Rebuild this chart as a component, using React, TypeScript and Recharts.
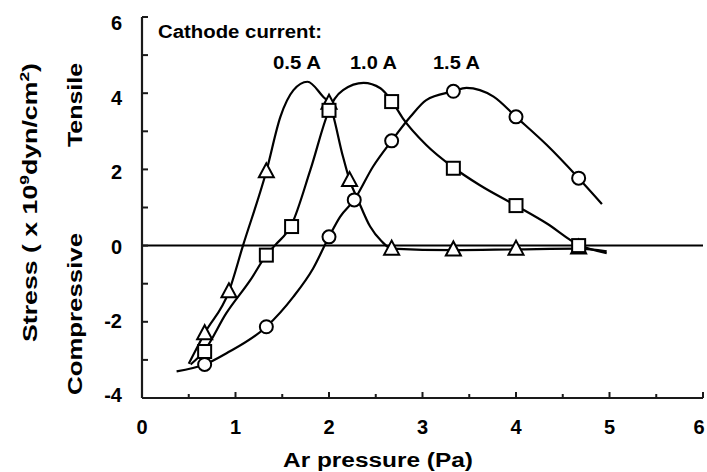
import React from "react";
import {
  ComposedChart,
  Line,
  Scatter,
  XAxis,
  YAxis,
  ReferenceLine,
} from "recharts";

// measured points (Ar pressure in Pa, stress in 1e9 dyn/cm2)
const pts05 = [
  { x: 0.67, y: -2.3 },
  { x: 0.93, y: -1.2 },
  { x: 1.33, y: 1.95 },
  { x: 2.0, y: 3.75 },
  { x: 2.22, y: 1.72 },
  { x: 2.67, y: -0.08 },
  { x: 3.33, y: -0.1 },
  { x: 4.0, y: -0.08 },
  { x: 4.67, y: -0.05 },
];
const pts10 = [
  { x: 0.67, y: -2.78 },
  { x: 1.33, y: -0.25 },
  { x: 1.6, y: 0.5 },
  { x: 2.0, y: 3.55 },
  { x: 2.67, y: 3.78 },
  { x: 3.33, y: 2.03 },
  { x: 4.0, y: 1.05 },
  { x: 4.67, y: 0.0 },
];
const pts15 = [
  { x: 0.67, y: -3.12 },
  { x: 1.33, y: -2.13 },
  { x: 2.0, y: 0.23 },
  { x: 2.27, y: 1.2 },
  { x: 2.67, y: 2.75 },
  { x: 3.33, y: 4.05 },
  { x: 4.0, y: 3.38 },
  { x: 4.67, y: 1.77 },
];

// hand-drawn fit curves
const curve05 = [
  { x: 0.5, y: -3.1 },
  { x: 0.67, y: -2.3 },
  { x: 0.93, y: -1.2 },
  { x: 1.08, y: 0 },
  { x: 1.33, y: 1.95 },
  { x: 1.48, y: 3.38 },
  { x: 1.62, y: 4.08 },
  { x: 1.77, y: 4.3 },
  { x: 1.94, y: 3.9 },
  { x: 2.0, y: 3.75 },
  { x: 2.15, y: 2.33 },
  { x: 2.22, y: 1.72 },
  { x: 2.31, y: 1.2 },
  { x: 2.44, y: 0.5 },
  { x: 2.56, y: 0.12 },
  { x: 2.67, y: -0.08 },
  { x: 3.33, y: -0.12 },
  { x: 4.0, y: -0.1 },
  { x: 4.67, y: -0.08 },
  { x: 4.97, y: -0.15 },
];
const curve10 = [
  { x: 0.52, y: -3.12 },
  { x: 0.67, y: -2.75 },
  { x: 0.9, y: -1.78 },
  { x: 1.16, y: -0.9 },
  { x: 1.33, y: -0.25 },
  { x: 1.42, y: 0 },
  { x: 1.6, y: 0.55 },
  { x: 1.8, y: 1.98 },
  { x: 2.0, y: 3.55 },
  { x: 2.06, y: 3.85 },
  { x: 2.15, y: 4.08 },
  { x: 2.37, y: 4.27 },
  { x: 2.55, y: 4.13 },
  { x: 2.67, y: 3.8 },
  { x: 2.79, y: 3.34 },
  { x: 3.04, y: 2.64 },
  { x: 3.33, y: 2.05 },
  { x: 3.61, y: 1.59 },
  { x: 4.0, y: 1.05 },
  { x: 4.33, y: 0.58 },
  { x: 4.67, y: 0.02 },
  { x: 4.97, y: -0.2 },
];
const curve15 = [
  { x: 0.37, y: -3.3 },
  { x: 0.67, y: -3.12 },
  { x: 0.9, y: -2.83 },
  { x: 1.33, y: -2.13 },
  { x: 1.62, y: -1.34 },
  { x: 1.83, y: -0.6 },
  { x: 2.0, y: 0.23 },
  { x: 2.12, y: 0.76 },
  { x: 2.27, y: 1.2 },
  { x: 2.47, y: 2.07 },
  { x: 2.67, y: 2.75 },
  { x: 2.87, y: 3.38 },
  { x: 3.04, y: 3.82 },
  { x: 3.33, y: 4.05 },
  { x: 3.47, y: 4.14 },
  { x: 3.76, y: 3.91 },
  { x: 4.0, y: 3.38 },
  { x: 4.33, y: 2.64 },
  { x: 4.67, y: 1.77 },
  { x: 4.92, y: 1.09 },
];

const xTicks = [0, 0.5, 1, 1.5, 2, 2.5, 3, 3.5, 4, 4.5, 5, 5.5, 6];
const yTicks = [-4, -3, -2, -1, 0, 1, 2, 3, 4, 5, 6];
const seriesLabels = ["0.5 A", "1.0 A", "1.5 A"];

// layout
const W = 707;
const H = 472;
const M_TOP = 17;
const M_RIGHT = 4;
const Y_AXIS_W = 142;
const X_AXIS_H = 74;

const ink = "#1a1a1a";
const font = "'Liberation Sans', Arial, Helvetica, sans-serif";

// tick labels plus the short inward tick marks
const XTick = ({ x, y, payload }: any) => {
  const v = payload.value;
  const major = Number.isInteger(v);
  const len = major ? 6 : 4;
  return (
    <g>
      <line x1={x} x2={x} y1={y} y2={y - len} stroke={ink} strokeWidth={2} />
      {major && (
        <text x={v === 6 ? x - 4 : x} y={y + 36} textAnchor="middle" fontFamily={font} fontWeight="bold" fontSize={20} fill="#000">
          {v}
        </text>
      )}
    </g>
  );
};

const YTick = ({ x, y, payload }: any) => {
  const v = payload.value;
  // scanned labels drift a little against the tick marks
  const dy = 8 + 0.9 * v;
  return (
    <g>
      <line x1={x} x2={x + 6} y1={y} y2={y} stroke={ink} strokeWidth={2} />
      {v % 2 === 0 && (
        <text x={x - 20} y={y + dy} textAnchor="end" fontFamily={font} fontWeight="bold" fontSize={20} fill="#000">
          {v}
        </text>
      )}
    </g>
  );
};

const Triangle = ({ cx, cy }: any) => (
  <polygon
    points={`${cx},${cy - 8} ${cx - 7.5},${cy + 6} ${cx + 7.5},${cy + 6}`}
    fill="#fff"
    stroke="#000"
    strokeWidth={2}
  />
);
const Square = ({ cx, cy }: any) => (
  <rect x={cx - 6.5} y={cy - 6.5} width={13} height={13} fill="#fff" stroke="#000" strokeWidth={2} />
);
const Circle = ({ cx, cy }: any) => (
  <circle cx={cx} cy={cy} r={6.5} fill="#fff" stroke="#000" strokeWidth={2} />
);

export default function App() {
  return (
    <div style={{ position: "absolute", left: 0, top: 0, width: W, height: H, background: "#fff" }}>
      <ComposedChart width={W} height={H} margin={{ top: M_TOP, right: M_RIGHT, left: 0, bottom: 0 }}>
        <XAxis
          dataKey="x"
          type="number"
          domain={[0, 6]}
          ticks={xTicks}
          tick={<XTick />}
          tickSize={0}
          tickMargin={0}
          tickLine={false}
          axisLine={{ stroke: ink, strokeWidth: 2.2 }}
          height={X_AXIS_H}
        />
        <XAxis
          xAxisId="top"
          orientation="top"
          dataKey="x"
          type="number"
          domain={[0, 6]}
          tick={false}
          tickLine={false}
          axisLine={{ stroke: ink, strokeWidth: 2.2 }}
          height={0}
        />
        <YAxis
          dataKey="y"
          type="number"
          domain={[-4, 6]}
          ticks={yTicks}
          tick={<YTick />}
          tickSize={0}
          tickMargin={0}
          tickLine={false}
          axisLine={{ stroke: ink, strokeWidth: 2.2 }}
          width={Y_AXIS_W}
        />
        <YAxis
          yAxisId="right"
          orientation="right"
          dataKey="y"
          type="number"
          domain={[-4, 6]}
          tick={false}
          tickLine={false}
          axisLine={{ stroke: ink, strokeWidth: 2.2 }}
          width={0}
        />
        <ReferenceLine y={0} stroke="#000" strokeWidth={2} />
        <Line data={curve05} dataKey="y" type="monotone" stroke="#000" strokeWidth={2.2} dot={false} isAnimationActive={false} />
        <Line data={curve10} dataKey="y" type="monotone" stroke="#000" strokeWidth={2.2} dot={false} isAnimationActive={false} />
        <Line data={curve15} dataKey="y" type="monotone" stroke="#000" strokeWidth={2.2} dot={false} isAnimationActive={false} />
        <Scatter data={pts05} shape={<Triangle />} isAnimationActive={false} />
        <Scatter data={pts10} shape={<Square />} isAnimationActive={false} />
        <Scatter data={pts15} shape={<Circle />} isAnimationActive={false} />
      </ComposedChart>
      <svg
        width={W}
        height={H}
        style={{ position: "absolute", left: 0, top: 0, pointerEvents: "none" }}
        fontFamily={font}
        fontWeight="bold"
        fill="#000"
      >
        <text x={158} y={38} fontSize={18} textLength={164} lengthAdjust="spacingAndGlyphs">Cathode current:</text>
        <text x={273} y={69} fontSize={18} textLength={48} lengthAdjust="spacingAndGlyphs">{seriesLabels[0]}</text>
        <text x={350} y={69} fontSize={18} textLength={47} lengthAdjust="spacingAndGlyphs">{seriesLabels[1]}</text>
        <text x={433} y={69} fontSize={18} textLength={47} lengthAdjust="spacingAndGlyphs">{seriesLabels[2]}</text>
        <text x={283} y={467} fontSize={20} textLength={190} lengthAdjust="spacingAndGlyphs">Ar pressure (Pa)</text>
        <text transform="translate(37,342) rotate(-90)" fontSize={20} textLength={279} lengthAdjust="spacingAndGlyphs">
          Stress ( x 10<tspan dy={-8} fontSize={13}>9</tspan>
          <tspan dy={8}>dyn/cm</tspan>
          <tspan dy={-8} fontSize={13}>2</tspan>
          <tspan dy={8}>)</tspan>
        </text>
        <text transform="translate(82,147) rotate(-90)" fontSize={20} textLength={84} lengthAdjust="spacingAndGlyphs">Tensile</text>
        <text transform="translate(82,395) rotate(-90)" fontSize={20} textLength={162} lengthAdjust="spacingAndGlyphs">Compressive</text>
      </svg>
    </div>
  );
}
